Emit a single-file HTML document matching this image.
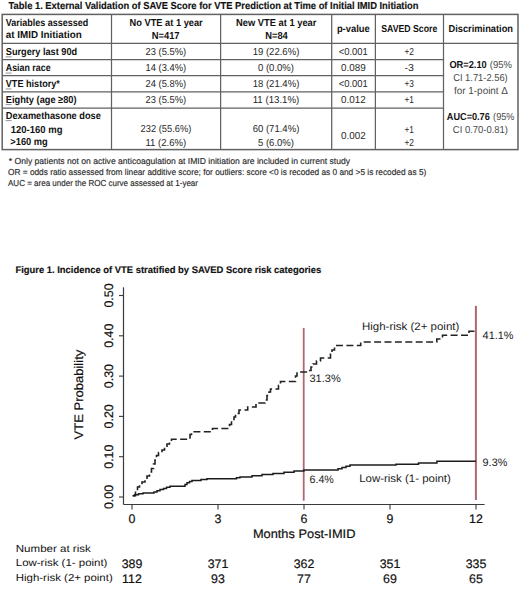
<!DOCTYPE html>
<html><head><meta charset="utf-8"><style>
html,body{margin:0;padding:0;background:#fff;}
body{width:520px;height:590px;overflow:hidden;}
svg{display:block;font-family:"Liberation Sans",sans-serif;text-rendering:geometricPrecision;}
</style></head><body>
<svg width="520" height="590" viewBox="0 0 520 590">
<rect width="520" height="590" fill="#fff"/>
<text x="8.60" y="8.60" font-size="10.2" font-weight="bold" fill="#111" textLength="409.91" lengthAdjust="spacingAndGlyphs" stroke="#111" stroke-width="0.15">Table 1. External Validation of SAVE Score for VTE Prediction at Time of Initial IMID Initiation</text>
<rect x="2.2" y="14.4" width="515.80" height="135.20" fill="none" stroke="#616161" stroke-width="1.5"/>
<line x1="111.5" y1="14.4" x2="111.5" y2="149.6" stroke="#616161" stroke-width="1.25"/>
<line x1="220.6" y1="14.4" x2="220.6" y2="149.6" stroke="#616161" stroke-width="1.25"/>
<line x1="331.7" y1="14.4" x2="331.7" y2="149.6" stroke="#616161" stroke-width="1.25"/>
<line x1="375.4" y1="14.4" x2="375.4" y2="149.6" stroke="#616161" stroke-width="1.25"/>
<line x1="443.5" y1="14.4" x2="443.5" y2="149.6" stroke="#616161" stroke-width="1.25"/>
<line x1="2.2" y1="43.4" x2="518.0" y2="43.4" stroke="#616161" stroke-width="1.25"/>
<line x1="2.2" y1="59.7" x2="443.5" y2="59.7" stroke="#616161" stroke-width="1.25"/>
<line x1="2.2" y1="75.7" x2="443.5" y2="75.7" stroke="#616161" stroke-width="1.25"/>
<line x1="2.2" y1="91.9" x2="443.5" y2="91.9" stroke="#616161" stroke-width="1.25"/>
<line x1="2.2" y1="108.0" x2="443.5" y2="108.0" stroke="#616161" stroke-width="1.25"/>
<text x="5.80" y="25.80" font-size="10.1" font-weight="bold" fill="#111" textLength="82.49" lengthAdjust="spacingAndGlyphs">Variables assessed</text>
<text x="5.80" y="38.30" font-size="10.1" font-weight="bold" fill="#111" textLength="76.02" lengthAdjust="spacingAndGlyphs">at IMID Initiation</text>
<text x="129.60" y="26.00" font-size="10.1" font-weight="bold" fill="#111" textLength="73.12" lengthAdjust="spacingAndGlyphs">No VTE at 1 year</text>
<text x="151.70" y="38.80" font-size="10.1" font-weight="bold" fill="#111" textLength="27.90" lengthAdjust="spacingAndGlyphs">N=417</text>
<text x="236.00" y="26.00" font-size="10.1" font-weight="bold" fill="#111" textLength="80.40" lengthAdjust="spacingAndGlyphs">New VTE at 1 year</text>
<text x="265.20" y="38.80" font-size="10.1" font-weight="bold" fill="#111" textLength="22.59" lengthAdjust="spacingAndGlyphs">N=84</text>
<text x="336.90" y="32.40" font-size="10.1" font-weight="bold" fill="#111" textLength="32.81" lengthAdjust="spacingAndGlyphs">p-value</text>
<text x="381.20" y="32.40" font-size="10.1" font-weight="bold" fill="#111" textLength="56.09" lengthAdjust="spacingAndGlyphs">SAVED Score</text>
<text x="448.50" y="32.40" font-size="10.1" font-weight="bold" fill="#111" textLength="64.51" lengthAdjust="spacingAndGlyphs">Discrimination</text>
<text x="5.80" y="54.80" font-size="10.1" font-weight="bold" fill="#111" textLength="71.31" lengthAdjust="spacingAndGlyphs">Surgery last 90d</text>
<rect x="5.6" y="56.4" width="6" height="0.9" fill="#707080" opacity="0.85"/>
<text x="5.80" y="71.00" font-size="10.1" font-weight="bold" fill="#111" textLength="44.79" lengthAdjust="spacingAndGlyphs">Asian race</text>
<rect x="5.6" y="72.6" width="6" height="0.9" fill="#707080" opacity="0.85"/>
<text x="5.80" y="86.90" font-size="10.1" font-weight="bold" fill="#111" textLength="54.11" lengthAdjust="spacingAndGlyphs">VTE history*</text>
<rect x="5.6" y="88.5" width="6" height="0.9" fill="#707080" opacity="0.85"/>
<text x="5.80" y="102.60" font-size="10.1" font-weight="bold" fill="#111" textLength="70.72" lengthAdjust="spacingAndGlyphs">Eighty (age ≥80)</text>
<rect x="5.6" y="104.2" width="6" height="0.9" fill="#707080" opacity="0.85"/>
<text x="5.80" y="118.60" font-size="10.1" font-weight="bold" fill="#111" textLength="95.02" lengthAdjust="spacingAndGlyphs">Dexamethasone dose</text>
<rect x="5.6" y="120.2" width="6" height="0.9" fill="#707080" opacity="0.85"/>
<text x="10.80" y="132.60" font-size="10.1" font-weight="bold" fill="#111" textLength="51.68" lengthAdjust="spacingAndGlyphs">120-160 mg</text>
<text x="10.30" y="145.40" font-size="10.1" font-weight="bold" fill="#111" textLength="37.50" lengthAdjust="spacingAndGlyphs">&gt;160 mg</text>
<text x="145.50" y="54.70" font-size="10.1" font-weight="normal" fill="#2a2a2a" textLength="40.61" lengthAdjust="spacingAndGlyphs">23 (5.5%)</text>
<text x="252.70" y="54.70" font-size="10.1" font-weight="normal" fill="#2a2a2a" textLength="46.62" lengthAdjust="spacingAndGlyphs">19 (22.6%)</text>
<text x="338.75" y="54.70" font-size="10.1" font-weight="normal" fill="#2a2a2a" textLength="29.11" lengthAdjust="spacingAndGlyphs">&lt;0.001</text>
<text x="404.45" y="54.70" font-size="10.1" font-weight="normal" fill="#2a2a2a" textLength="9.50" lengthAdjust="spacingAndGlyphs">+2</text>
<text x="145.50" y="71.00" font-size="10.1" font-weight="normal" fill="#2a2a2a" textLength="40.61" lengthAdjust="spacingAndGlyphs">14 (3.4%)</text>
<text x="258.00" y="71.00" font-size="10.1" font-weight="normal" fill="#2a2a2a" textLength="35.99" lengthAdjust="spacingAndGlyphs">0 (0.0%)</text>
<text x="340.95" y="71.00" font-size="10.1" font-weight="normal" fill="#2a2a2a" textLength="24.68" lengthAdjust="spacingAndGlyphs">0.089</text>
<text x="404.45" y="71.00" font-size="10.1" font-weight="normal" fill="#2a2a2a" textLength="9.49" lengthAdjust="spacingAndGlyphs">-3</text>
<text x="145.50" y="86.90" font-size="10.1" font-weight="normal" fill="#2a2a2a" textLength="40.61" lengthAdjust="spacingAndGlyphs">24 (5.8%)</text>
<text x="252.70" y="86.90" font-size="10.1" font-weight="normal" fill="#2a2a2a" textLength="46.62" lengthAdjust="spacingAndGlyphs">18 (21.4%)</text>
<text x="338.75" y="86.90" font-size="10.1" font-weight="normal" fill="#2a2a2a" textLength="29.11" lengthAdjust="spacingAndGlyphs">&lt;0.001</text>
<text x="404.45" y="86.90" font-size="10.1" font-weight="normal" fill="#2a2a2a" textLength="9.50" lengthAdjust="spacingAndGlyphs">+3</text>
<text x="145.50" y="102.90" font-size="10.1" font-weight="normal" fill="#2a2a2a" textLength="40.61" lengthAdjust="spacingAndGlyphs">23 (5.5%)</text>
<text x="252.70" y="102.90" font-size="10.1" font-weight="normal" fill="#2a2a2a" textLength="46.58" lengthAdjust="spacingAndGlyphs">11 (13.1%)</text>
<text x="340.95" y="102.90" font-size="10.1" font-weight="normal" fill="#2a2a2a" textLength="24.68" lengthAdjust="spacingAndGlyphs">0.012</text>
<text x="404.45" y="102.90" font-size="10.1" font-weight="normal" fill="#2a2a2a" textLength="9.50" lengthAdjust="spacingAndGlyphs">+1</text>
<text x="140.60" y="132.20" font-size="10.1" font-weight="normal" fill="#2a2a2a" textLength="50.78" lengthAdjust="spacingAndGlyphs">232 (55.6%)</text>
<text x="145.50" y="145.60" font-size="10.1" font-weight="normal" fill="#2a2a2a" textLength="40.61" lengthAdjust="spacingAndGlyphs">11 (2.6%)</text>
<text x="252.70" y="132.20" font-size="10.1" font-weight="normal" fill="#2a2a2a" textLength="46.62" lengthAdjust="spacingAndGlyphs">60 (71.4%)</text>
<text x="258.00" y="145.60" font-size="10.1" font-weight="normal" fill="#2a2a2a" textLength="35.99" lengthAdjust="spacingAndGlyphs">5 (6.0%)</text>
<text x="340.95" y="139.40" font-size="10.1" font-weight="normal" fill="#2a2a2a" textLength="24.68" lengthAdjust="spacingAndGlyphs">0.002</text>
<text x="404.45" y="132.50" font-size="10.1" font-weight="normal" fill="#2a2a2a" textLength="9.50" lengthAdjust="spacingAndGlyphs">+1</text>
<text x="404.45" y="145.60" font-size="10.1" font-weight="normal" fill="#2a2a2a" textLength="9.50" lengthAdjust="spacingAndGlyphs">+2</text>
<text x="449.40" y="67.70" font-size="10.1" font-weight="bold" fill="#111" textLength="37.30" lengthAdjust="spacingAndGlyphs">OR=2.10</text>
<text x="489.80" y="67.70" font-size="10.1" font-weight="normal" fill="#4a4a4a" textLength="22.20" lengthAdjust="spacingAndGlyphs">(95%</text>
<text x="453.20" y="80.80" font-size="10.1" font-weight="normal" fill="#4a4a4a" textLength="54.51" lengthAdjust="spacingAndGlyphs">CI 1.71-2.56)</text>
<text x="454.00" y="93.60" font-size="10.1" font-weight="normal" fill="#4a4a4a" textLength="53.98" lengthAdjust="spacingAndGlyphs">for 1-point Δ</text>
<text x="446.80" y="119.60" font-size="10.1" font-weight="bold" fill="#111" textLength="43.02" lengthAdjust="spacingAndGlyphs">AUC=0.76</text>
<text x="493.10" y="119.60" font-size="10.1" font-weight="normal" fill="#4a4a4a" textLength="21.30" lengthAdjust="spacingAndGlyphs">(95%</text>
<text x="452.80" y="132.60" font-size="10.1" font-weight="normal" fill="#4a4a4a" textLength="55.21" lengthAdjust="spacingAndGlyphs">CI 0.70-0.81)</text>
<text x="8.80" y="164.00" font-size="8.7" font-weight="normal" fill="#2a2a2a" textLength="341.20" lengthAdjust="spacingAndGlyphs" stroke="#2a2a2a" stroke-width="0.15">* Only patients not on active anticoagulation at IMID initiation are included in current study</text>
<text x="8.00" y="175.20" font-size="8.7" font-weight="normal" fill="#2a2a2a" textLength="418.29" lengthAdjust="spacingAndGlyphs" stroke="#2a2a2a" stroke-width="0.15">OR = odds ratio assessed from linear additive score; for outliers: score &lt;0 is recoded as 0 and &gt;5 is recoded as 5)</text>
<text x="8.00" y="185.90" font-size="8.7" font-weight="normal" fill="#2a2a2a" textLength="190.01" lengthAdjust="spacingAndGlyphs" stroke="#2a2a2a" stroke-width="0.15">AUC = area under the ROC curve assessed at 1-year</text>
<text x="15.40" y="272.60" font-size="9.6" font-weight="bold" fill="#111" textLength="305.82" lengthAdjust="spacingAndGlyphs" stroke="#111" stroke-width="0.15">Figure 1. Incidence of VTE stratified by SAVED Score risk categories</text>
<line x1="123.5" y1="287.3" x2="123.5" y2="504.6" stroke="#3a3a3a" stroke-width="1.2"/>
<line x1="123.5" y1="504.5" x2="484.6" y2="504.5" stroke="#3a3a3a" stroke-width="1.2"/>
<line x1="119.0" y1="497.0" x2="123.5" y2="497.0" stroke="#3a3a3a" stroke-width="1.1"/>
<text transform="translate(112.9,497.00) rotate(-90)" x="-12.06" y="0" font-size="12.4" fill="#111" stroke="#111" stroke-width="0.2">0.00</text>
<line x1="119.0" y1="456.7" x2="123.5" y2="456.7" stroke="#3a3a3a" stroke-width="1.1"/>
<text transform="translate(112.9,456.70) rotate(-90)" x="-12.06" y="0" font-size="12.4" fill="#111" stroke="#111" stroke-width="0.2">0.10</text>
<line x1="119.0" y1="416.4" x2="123.5" y2="416.4" stroke="#3a3a3a" stroke-width="1.1"/>
<text transform="translate(112.9,416.40) rotate(-90)" x="-12.06" y="0" font-size="12.4" fill="#111" stroke="#111" stroke-width="0.2">0.20</text>
<line x1="119.0" y1="376.1" x2="123.5" y2="376.1" stroke="#3a3a3a" stroke-width="1.1"/>
<text transform="translate(112.9,376.10) rotate(-90)" x="-12.06" y="0" font-size="12.4" fill="#111" stroke="#111" stroke-width="0.2">0.30</text>
<line x1="119.0" y1="335.79999999999995" x2="123.5" y2="335.79999999999995" stroke="#3a3a3a" stroke-width="1.1"/>
<text transform="translate(112.9,335.80) rotate(-90)" x="-12.06" y="0" font-size="12.4" fill="#111" stroke="#111" stroke-width="0.2">0.40</text>
<line x1="119.0" y1="295.5" x2="123.5" y2="295.5" stroke="#3a3a3a" stroke-width="1.1"/>
<text transform="translate(112.9,295.50) rotate(-90)" x="-12.06" y="0" font-size="12.4" fill="#111" stroke="#111" stroke-width="0.2">0.50</text>
<line x1="132.0" y1="504.5" x2="132.0" y2="509.6" stroke="#3a3a3a" stroke-width="1.1"/>
<text x="128.56" y="523.00" font-size="12.4" font-weight="normal" fill="#111" stroke="#111" stroke-width="0.2">0</text>
<line x1="218.0" y1="504.5" x2="218.0" y2="509.6" stroke="#3a3a3a" stroke-width="1.1"/>
<text x="214.56" y="523.00" font-size="12.4" font-weight="normal" fill="#111" stroke="#111" stroke-width="0.2">3</text>
<line x1="304.0" y1="504.5" x2="304.0" y2="509.6" stroke="#3a3a3a" stroke-width="1.1"/>
<text x="300.56" y="523.00" font-size="12.4" font-weight="normal" fill="#111" stroke="#111" stroke-width="0.2">6</text>
<line x1="390.0" y1="504.5" x2="390.0" y2="509.6" stroke="#3a3a3a" stroke-width="1.1"/>
<text x="386.56" y="523.00" font-size="12.4" font-weight="normal" fill="#111" stroke="#111" stroke-width="0.2">9</text>
<line x1="476.0" y1="504.5" x2="476.0" y2="509.6" stroke="#3a3a3a" stroke-width="1.1"/>
<text x="469.12" y="523.00" font-size="12.4" font-weight="normal" fill="#111" stroke="#111" stroke-width="0.2">12</text>
<text x="252.90" y="537.50" font-size="12.4" font-weight="normal" fill="#111" textLength="102.53" lengthAdjust="spacingAndGlyphs" stroke="#111" stroke-width="0.2">Months Post-IMID</text>
<text transform="translate(83.1,394.6) rotate(-90)" x="-44.85" y="0" textLength="89.72" lengthAdjust="spacingAndGlyphs" font-size="12.4" fill="#111" stroke="#111" stroke-width="0.2">VTE Probability</text>
<line x1="303.7" y1="327.9" x2="303.7" y2="500.7" stroke="#ad6771" stroke-width="1.8"/>
<line x1="475.9" y1="305.8" x2="475.9" y2="500.0" stroke="#ad6771" stroke-width="2.0"/>
<polyline points="132.7,495.8 135.5,495.8 135.5,491.0 137.5,491.0 137.5,487.0 139.5,487.0 139.5,484.5 142.0,484.5 142.0,482.0 145.0,482.0 145.0,479.0 147.0,479.0 147.0,476.0 149.5,476.0 149.5,472.0 151.5,472.0 151.5,468.5 153.5,468.5 153.5,464.0 155.0,464.0 155.0,460.0 156.5,460.0 156.5,455.5 158.5,455.5 158.5,452.5 162.0,452.5 162.0,450.0 164.5,450.0 164.5,447.0 167.0,447.0 167.0,444.0 169.5,444.0 169.5,441.0 171.5,441.0 171.5,439.2 190.0,439.2 190.0,434.5 191.5,434.5 191.5,431.7 212.5,431.7 212.5,428.5 229.5,428.5 229.5,424.5 231.5,424.5 231.5,421.0 234.0,421.0 234.0,417.0 235.5,417.0 235.5,413.5 239.0,413.5 239.0,410.0 247.7,410.0 247.7,407.0 256.0,407.0 256.0,403.0 265.0,403.0 265.0,400.0 267.0,400.0 267.0,395.5 269.0,395.5 269.0,392.0 270.5,392.0 270.5,389.0 278.5,389.0 278.5,385.5 280.5,385.5 280.5,381.5 295.5,381.5 295.5,376.0 297.0,376.0 297.0,372.0 303.9,372.0 308.0,372.0 308.0,370.5 311.0,370.5 311.0,367.0 313.0,367.0 313.0,364.0 316.5,364.0 316.5,361.0 320.5,361.0 320.5,358.0 330.5,358.0 330.5,354.0 332.0,354.0 332.0,350.0 334.5,350.0 334.5,346.5 336.0,346.5 336.0,345.5 360.7,345.5 360.7,342.0 436.8,342.0 436.8,339.0 442.5,339.0 442.5,335.3 469.0,335.3 469.0,331.3 476.0,331.3" fill="none" stroke="#222" stroke-width="1.6" stroke-dasharray="7 3.4" stroke-linejoin="miter"/>
<polyline points="132.7,495.8 134.5,495.8 134.5,494.8 138.5,494.8 138.5,493.8 143.0,493.8 143.0,493.0 154.0,493.0 154.0,492.0 157.0,492.0 157.0,490.8 160.0,490.8 160.0,489.6 163.5,489.6 163.5,488.5 166.5,488.5 166.5,487.3 170.0,487.3 170.0,486.2 185.0,486.2 185.0,484.5 187.0,484.5 187.0,482.8 189.5,482.8 189.5,481.5 192.0,481.5 192.0,480.4 201.0,480.4 201.0,479.4 207.0,479.4 207.0,478.8 236.5,478.8 236.5,477.8 240.0,477.8 240.0,477.0 252.0,477.0 252.0,475.8 262.0,475.8 262.0,474.6 273.0,474.6 273.0,473.4 284.0,473.4 284.0,472.2 294.0,472.2 294.0,471.0 303.9,471.0 303.9,470.0 338.0,470.0 338.0,468.8 342.0,468.8 342.0,467.5 346.0,467.5 346.0,466.3 350.0,466.3 350.0,465.1 396.0,465.1 396.0,464.2 418.5,464.2 418.5,462.9 436.9,462.9 436.9,461.2 476.0,461.2" fill="none" stroke="#1c1c1c" stroke-width="1.5" stroke-linejoin="miter"/>
<text x="362.00" y="330.00" font-size="10.8" font-weight="normal" fill="#222" textLength="97.30" lengthAdjust="spacingAndGlyphs">High-risk (2+ point)</text>
<text x="482.60" y="339.20" font-size="10.8" font-weight="normal" fill="#222" textLength="30.91" lengthAdjust="spacingAndGlyphs">41.1%</text>
<text x="309.50" y="381.80" font-size="10.8" font-weight="normal" fill="#222" textLength="31.21" lengthAdjust="spacingAndGlyphs">31.3%</text>
<text x="309.50" y="483.40" font-size="10.8" font-weight="normal" fill="#222" textLength="24.29" lengthAdjust="spacingAndGlyphs">6.4%</text>
<text x="359.20" y="481.80" font-size="10.8" font-weight="normal" fill="#222" textLength="91.63" lengthAdjust="spacingAndGlyphs">Low-risk (1- point)</text>
<text x="482.60" y="465.70" font-size="10.8" font-weight="normal" fill="#222" textLength="24.69" lengthAdjust="spacingAndGlyphs">9.3%</text>
<text x="15.80" y="551.50" font-size="10.2" font-weight="normal" fill="#111" textLength="74.96" lengthAdjust="spacingAndGlyphs">Number at risk</text>
<text x="15.80" y="565.60" font-size="10.2" font-weight="normal" fill="#111" textLength="91.63" lengthAdjust="spacingAndGlyphs">Low-risk (1- point)</text>
<text x="15.80" y="581.20" font-size="10.2" font-weight="normal" fill="#111" textLength="96.90" lengthAdjust="spacingAndGlyphs">High-risk (2+ point)</text>
<text x="121.65" y="568.10" font-size="12.4" font-weight="normal" fill="#111" stroke="#111" stroke-width="0.2">389</text>
<text x="122.11" y="582.70" font-size="12.4" font-weight="normal" fill="#111" stroke="#111" stroke-width="0.2">112</text>
<text x="207.65" y="568.10" font-size="12.4" font-weight="normal" fill="#111" stroke="#111" stroke-width="0.2">371</text>
<text x="211.12" y="582.70" font-size="12.4" font-weight="normal" fill="#111" stroke="#111" stroke-width="0.2">93</text>
<text x="293.65" y="568.10" font-size="12.4" font-weight="normal" fill="#111" stroke="#111" stroke-width="0.2">362</text>
<text x="297.12" y="582.70" font-size="12.4" font-weight="normal" fill="#111" stroke="#111" stroke-width="0.2">77</text>
<text x="379.65" y="568.10" font-size="12.4" font-weight="normal" fill="#111" stroke="#111" stroke-width="0.2">351</text>
<text x="383.12" y="582.70" font-size="12.4" font-weight="normal" fill="#111" stroke="#111" stroke-width="0.2">69</text>
<text x="465.65" y="568.10" font-size="12.4" font-weight="normal" fill="#111" stroke="#111" stroke-width="0.2">335</text>
<text x="469.12" y="582.70" font-size="12.4" font-weight="normal" fill="#111" stroke="#111" stroke-width="0.2">65</text>
</svg>
</body></html>
